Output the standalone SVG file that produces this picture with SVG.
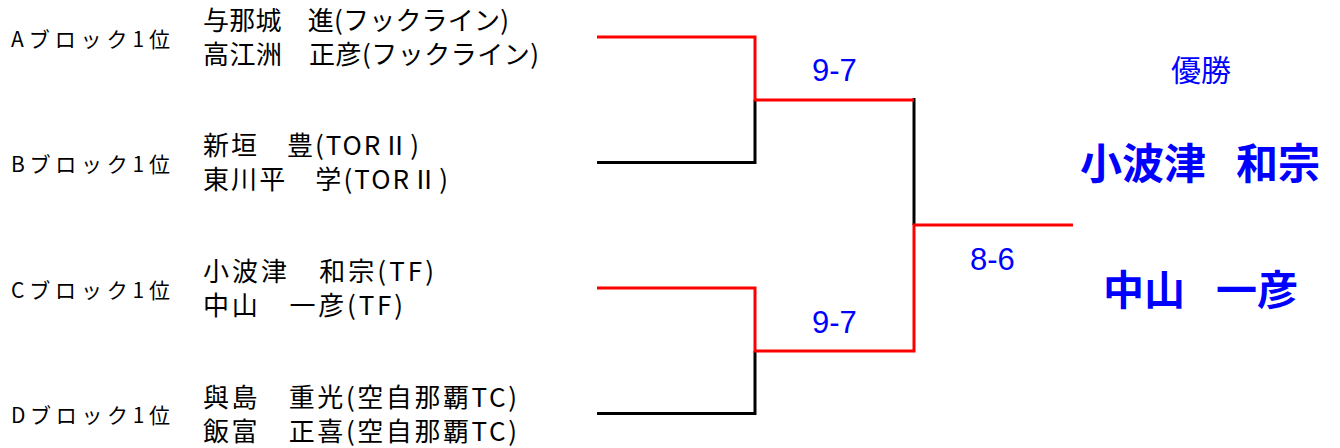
<svg xmlns="http://www.w3.org/2000/svg" width="1340" height="448" viewBox="0 0 1340 448">
<style>
.lbl{font-family:"Noto Sans CJK JP","Noto Sans",sans-serif;font-size:21px;fill:#000}
.nm{font-family:"Noto Sans CJK JP","Noto Sans",sans-serif;font-size:26px;fill:#000}
.sc{font-family:"Liberation Sans",Arial,sans-serif;font-size:31px;fill:#0000ff}
.win{font-family:"Noto Sans CJK JP","Noto Sans",sans-serif;fill:#0000ff}
.lose{fill:none;stroke:#000;stroke-width:3}
.won{fill:none;stroke:#ff0000;stroke-width:3}
</style>
<rect width="1340" height="448" fill="#fff"/>
<g id="connectors">
<path class="lose" d="M597 162.5H755V100"/>
<path class="lose" d="M914 98V225"/>
<path class="lose" d="M597 413.5H755V351"/>
<path class="won" d="M597 37H755V100H914"/>
<path class="won" d="M597 288H755V351H914V225H1073"/>
<text class="sc" x="812" y="81">9-7</text>
<text class="sc" x="812" y="333">9-7</text>
<text class="sc" x="970" y="270">8-6</text>
</g>
<g id="block-a">
<text class="lbl" x="11" y="47" textLength="159">Aブロック1位</text>
<text class="nm" x="203" y="30" textLength="306">与那城　進(フックライン)</text>
<text class="nm" x="203" y="64" textLength="336">高江洲　正彦(フックライン)</text>
</g>
<g id="block-b">
<text class="lbl" x="11" y="172" textLength="159">Bブロック1位</text>
<text class="nm" x="203" y="155" textLength="216">新垣　豊(TORⅡ)</text>
<text class="nm" x="203" y="189" textLength="245">東川平　学(TORⅡ)</text>
</g>
<g id="block-c">
<text class="lbl" x="11" y="298" textLength="159">Cブロック1位</text>
<text class="nm" x="203" y="281" textLength="231">小波津　和宗(TF)</text>
<text class="nm" x="203" y="315" textLength="200">中山　一彦(TF)</text>
</g>
<g id="block-d">
<text class="lbl" x="11" y="423" textLength="159">Dブロック1位</text>
<text class="nm" x="203" y="407" textLength="314">與島　重光(空自那覇TC)</text>
<text class="nm" x="203" y="441" textLength="314">飯富　正喜(空自那覇TC)</text>
</g>
<g id="winner">
<text class="win" x="1171" y="81" font-size="30" textLength="60">優勝</text>
<text class="win" x="1080" y="179" font-size="42" font-weight="bold">小波津<tspan x="1236">和宗</tspan></text>
<text class="win" x="1103" y="305" font-size="41" font-weight="bold">中山<tspan x="1216">一彦</tspan></text>
</g>
</svg>
